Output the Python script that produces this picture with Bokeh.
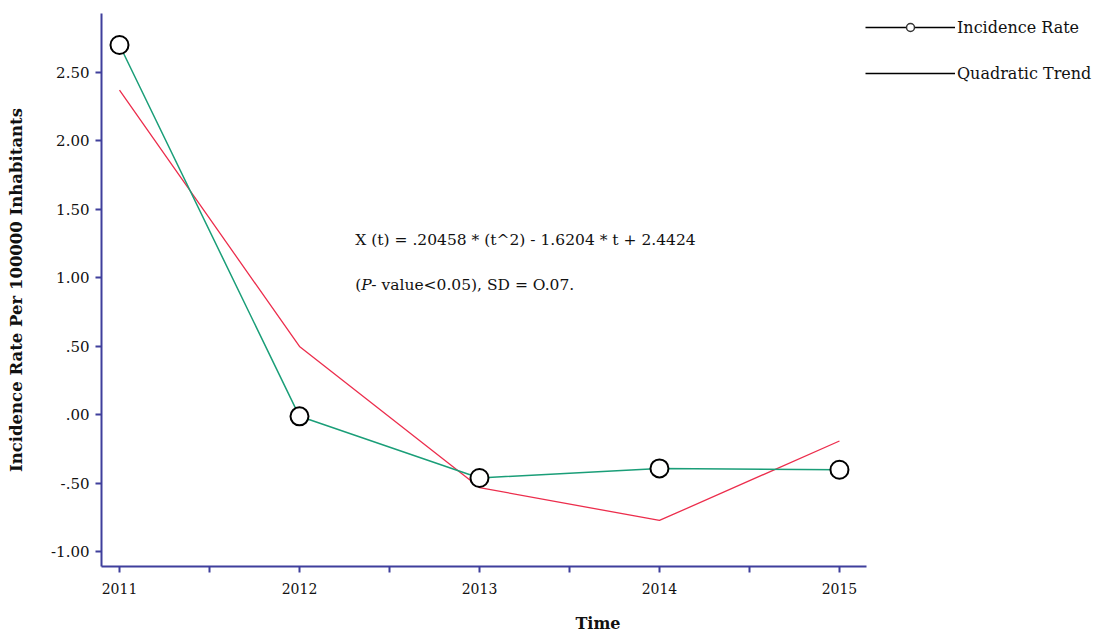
from bokeh.plotting import figure
from bokeh.models import (Range1d, FixedTicker, CustomJSTickFormatter, Legend, LegendItem,
                          Label, ColumnDataSource)
from bokeh.embed import file_html
from bokeh.resources import INLINE

# ---- data ----
years = [2011, 2012, 2013, 2014, 2015]
incidence_rate = [2.70, -0.01, -0.46, -0.39, -0.40]
quadratic_trend = [2.37, 0.50, -0.53, -0.77, -0.19]
x_ticks = [2011, 2012, 2013, 2014, 2015]
x_minor_ticks = [2011.5, 2012.5, 2013.5, 2014.5]
y_ticks = [-1.0, -0.5, 0.0, 0.5, 1.0, 1.5, 2.0, 2.5]

FONT = "DejaVu Serif"
AXIS_COLOR = "#3f3f9c"
GREEN = "#1a9e78"
RED = "#ec2d4c"

X_START, X_AXIS_END = 2010.9, 2015.15

p = figure(width=1094, height=635, output_backend="svg", toolbar_location=None,
           x_range=Range1d(X_START, 2016.417), y_range=Range1d(-1.106, 2.93),
           min_border_left=101, min_border_right=0, min_border_top=13, min_border_bottom=68)
p.grid.visible = False
p.outline_line_color = None
p.background_fill_color = "white"
p.border_fill_color = "white"

src = ColumnDataSource(dict(year=years, rate=incidence_rate, trend=quadratic_trend))

p.line("year", "trend", source=src, line_color=RED, line_width=1.3)
p.line("year", "rate", source=src, line_color=GREEN, line_width=1.5)
p.scatter("year", "rate", source=src, size=18, marker="circle", fill_color="white",
          line_color="black", line_width=2)

# axes
xa = p.xaxis[0]
xa.ticker = FixedTicker(ticks=x_ticks, minor_ticks=x_minor_ticks)
xa.bounds = (X_START, X_AXIS_END)
ya = p.yaxis[0]
ya.ticker = FixedTicker(ticks=y_ticks)
ya.formatter = CustomJSTickFormatter(code="return tick.toFixed(2).replace(/^(-?)0\\./, '$1.');")
for ax in (xa, ya):
    ax.axis_line_color = AXIS_COLOR
    ax.axis_line_width = 2
    ax.major_tick_line_color = AXIS_COLOR
    ax.major_tick_line_width = 2
    ax.major_tick_in = 0
    ax.major_tick_out = 6
    ax.major_label_text_font = FONT
    ax.major_label_text_color = "#111111"
    ax.axis_label_text_font = FONT
    ax.axis_label_text_font_style = "bold"
    ax.axis_label_text_color = "#111111"
xa.major_label_text_font_size = "14px"
ya.major_label_text_font_size = "15px"
xa.minor_tick_line_color = AXIS_COLOR
xa.minor_tick_line_width = 2
xa.minor_tick_in = 0
xa.minor_tick_out = 6
ya.minor_tick_line_color = None
xa.major_label_standoff = 10
xa.axis_label = "Time"
xa.axis_label_text_font_size = "16px"
xa.axis_label_standoff = 17
ya.axis_label = "Incidence Rate Per 100000 Inhabitants"
ya.axis_label_text_font_size = "16.5px"
ya.axis_label_standoff = 22
ya.major_label_standoff = 6

# annotation text
TXT = dict(text_font=FONT, text_font_size="15.5px", text_baseline="middle", text_color="#111111")
p.add_layout(Label(x=2012.31, y=1.274, text="X (t) = .20458 * (t^2) - 1.6204 * t + 2.4424", **TXT))
p.add_layout(Label(x=2012.31, y=0.946, text="(", **TXT))
p.add_layout(Label(x=2012.31, y=0.946, x_offset=6, text="P", text_font_style="italic", **TXT))
p.add_layout(Label(x=2012.31, y=0.946, x_offset=16, text="- value<0.05), SD = O.07.", **TXT))

# legend (renderers without visible data, used only for the legend glyphs)
nan = float("nan")
blank = ColumnDataSource(dict(x=[nan], y=[nan]))
lg_line = p.line("x", "y", source=blank, line_color="black", line_width=1.3)
lg_circ = p.scatter("x", "y", source=blank, size=9, marker="circle", fill_color="white",
                    line_color="#333333", line_width=1.5)
lg_line2 = p.line("x", "y", source=blank, line_color="black", line_width=1.3)
legend = Legend(items=[LegendItem(label="Incidence Rate", renderers=[lg_line, lg_circ]),
                       LegendItem(label="Quadratic Trend", renderers=[lg_line2])],
                location=(764, 483), orientation="vertical",
                glyph_width=90, glyph_height=20, label_height=20, label_standoff=2,
                spacing=26, padding=5, margin=0,
                border_line_color=None, background_fill_alpha=0,
                label_text_font=FONT, label_text_font_size="16px", label_text_color="#111111")
p.add_layout(legend, "center")

open("out.html", "w").write(file_html(p, INLINE))
